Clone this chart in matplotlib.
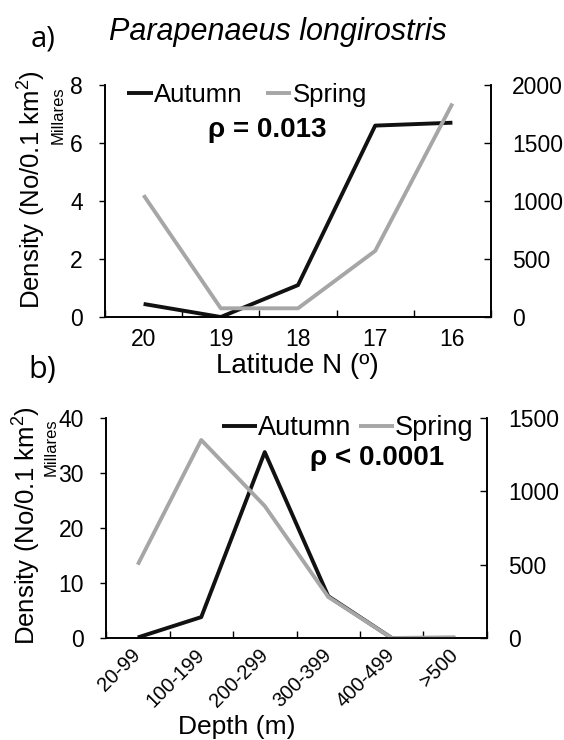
import matplotlib
matplotlib.use("Agg")
import matplotlib.pyplot as plt
from matplotlib.ticker import FixedLocator, NullFormatter

plt.rcParams['font.family'] = ['Liberation Sans', 'DejaVu Sans']
plt.rcParams['mathtext.fontset'] = 'custom'
plt.rcParams['mathtext.rm'] = 'Liberation Sans'

# ---- data ----
lat_labels = ["20", "19", "18", "17", "16"]
lat_autumn = [0.45, 0.0, 1.1, 6.6, 6.7]            # thousands (left axis)
lat_spring = [1050, 75, 75, 570, 1840]              # right axis

depth_labels = ["20-99", "100-199", "200-299", "300-399", "400-499", ">500"]
depth_autumn = [0.1, 3.8, 33.8, 7.6, 0.0, 0.0]      # thousands (left axis)
depth_spring = [500, 1350, 900, 280, 0, 5]          # right axis

BLACK = "#111111"
GREY = "#a6a6a6"
LW = 2.8
TICK_FS = 16.5

W, H = 564, 740
fig = plt.figure(figsize=(W / 100, H / 100), dpi=100)


def fx(px):
    return px / W


def fy(py):
    return 1 - py / H


def panel(left, right, top, bottom, labels, autumn, spring, ylim_l, yt_l, ylim_r, yt_r):
    ax = fig.add_axes([fx(left), fy(bottom), fx(right - left), (bottom - top) / H])
    n = len(labels)
    x = list(range(n))
    ax2 = ax.twinx()
    la, = ax.plot(x, autumn, color=BLACK, lw=LW, solid_capstyle='butt', zorder=3)
    ls, = ax2.plot(x, spring, color=GREY, lw=LW, solid_capstyle='butt', zorder=2)
    for a in (ax, ax2):
        a.set_xlim(-0.5, n - 0.5)
        a.spines['top'].set_visible(False)
        for s in a.spines.values():
            s.set_linewidth(1.2)
            s.set_color('black')
    ax.set_ylim(*ylim_l)
    ax.set_yticks(yt_l)
    ax2.set_ylim(*ylim_r)
    ax2.set_yticks(yt_r)
    ax.set_xticks(x)
    ax.xaxis.set_minor_locator(FixedLocator([i - 0.5 for i in range(n + 1)]))
    ax.xaxis.set_minor_formatter(NullFormatter())
    ax.tick_params(axis='x', which='major', length=0, labelsize=TICK_FS)
    ax.tick_params(axis='x', which='minor', direction='in', length=5, width=1.0)
    ax.tick_params(axis='y', direction='out', length=4, width=1.0, labelsize=TICK_FS, pad=12)
    ax2.tick_params(axis='y', direction='in', length=5, width=1.0, labelsize=TICK_FS, pad=15)
    return ax, ax2, la, ls


# ---- panel a: latitude ----
axa, axa2, la, ls = panel(105, 491, 85, 317, lat_labels, lat_autumn, lat_spring,
                          (0, 8), [0, 2, 4, 6, 8], (0, 2000), [0, 500, 1000, 1500, 2000])
axa.set_xticklabels(lat_labels)
axa.tick_params(axis='x', which='major', pad=8)

fig.text(fx(31), fy(39), "a)", fontsize=21, family=['Open Sans', 'DejaVu Sans'],
         ha='left', va='center')
fig.text(fx(278), fy(40), "Parapenaeus longirostris", fontsize=22, style='italic',
         ha='center', va='baseline')
fig.text(fx(31), fy(190), "Density (No/0.1 km$^2$)", fontsize=18.5, rotation=90,
         ha='center', va='center')
fig.text(fx(58), fy(115), "Millares", fontsize=12, rotation=90, ha='center', va='center')
fig.text(fx(297), fy(366), "Latitude N (º)", fontsize=20, ha='center', va='center')
fig.text(fx(267), fy(130), "ρ = 0.013", fontsize=20, weight='bold', ha='center', va='center')
fig.legend([la, ls], ["Autumn", "Spring"], loc='center left',
           bbox_to_anchor=(fx(127), fy(95)), bbox_transform=fig.transFigure,
           ncol=2, frameon=False, fontsize=18.5, handlelength=1.0, handletextpad=0.05,
           columnspacing=0.9, borderpad=0, borderaxespad=0)

# ---- panel b: depth ----
axb, axb2, lb, lsb = panel(106, 487, 418, 638, depth_labels, depth_autumn, depth_spring,
                           (0, 40), [0, 10, 20, 30, 40], (0, 1500), [0, 500, 1000, 1500])
axb.set_xticklabels(depth_labels, rotation=45, ha='right', va='center',
                    rotation_mode='anchor', fontsize=14.5)
axb.tick_params(axis='x', which='major', pad=10)

fig.text(fx(28), fy(370), "b)", fontsize=22, family=['Open Sans', 'DejaVu Sans'],
         ha='left', va='center')
fig.text(fx(26), fy(526), "Density (No/0.1 km$^2$)", fontsize=18.5, rotation=90,
         ha='center', va='center')
fig.text(fx(51), fy(447), "Millares", fontsize=12, rotation=90, ha='center', va='center')
fig.text(fx(237), fy(727), "Depth (m)", fontsize=19, ha='center', va='center')
fig.text(fx(377), fy(458), "ρ < 0.0001", fontsize=20, weight='bold', ha='center', va='center')
fig.legend([lb, lsb], ["Autumn", "Spring"], loc='center left',
           bbox_to_anchor=(fx(222), fy(428)), bbox_transform=fig.transFigure,
           ncol=2, frameon=False, fontsize=19.5, handlelength=1.3, handletextpad=0.02,
           columnspacing=0.3, borderpad=0, borderaxespad=0)

fig.savefig("out.png", dpi=100)
